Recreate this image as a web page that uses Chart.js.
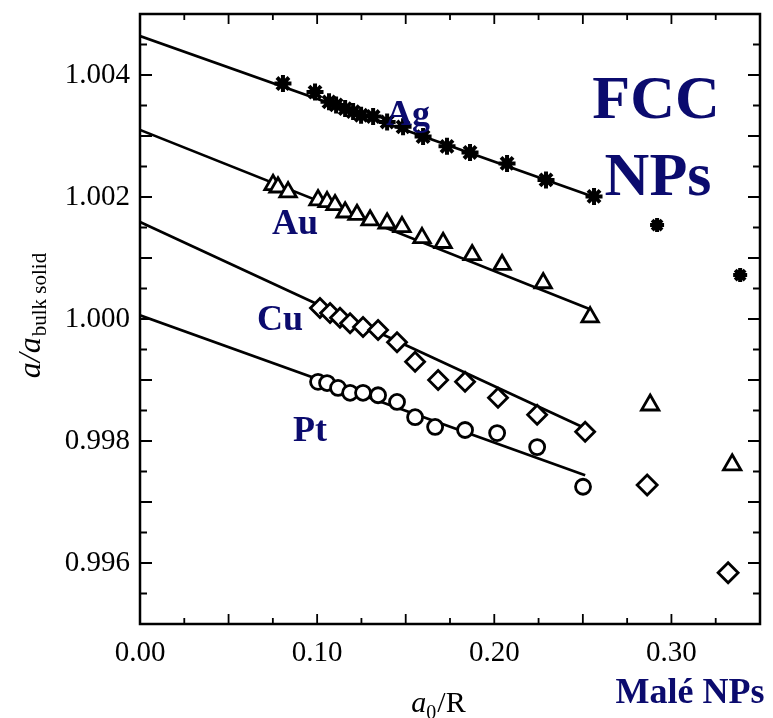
<!DOCTYPE html>
<html>
<head>
<meta charset="utf-8">
<script src="https://cdn.jsdelivr.net/npm/chart.js@4.4.1/dist/chart.umd.min.js"></script>
<style>
  html, body { margin: 0; padding: 0; background: #fff; }
  #wrap { width: 773px; height: 718px; position: relative; }
</style>
</head>
<body>
<div id="wrap"><canvas id="chart"></canvas></div>
<script>
// a0/R (x) and a/a_bulk (y)
const agX = [0.0807, 0.0988, 0.1067, 0.1107, 0.1158, 0.1203, 0.1248, 0.1316, 0.1395, 0.1485, 0.1598, 0.1733, 0.1863, 0.2072, 0.2292, 0.2563];
const agY = [1.00386, 1.00372, 1.00356, 1.00351, 1.00345, 1.00340, 1.00334, 1.00332, 1.00323, 1.00315, 1.00299, 1.00283, 1.00273, 1.00255, 1.00228, 1.00201];
const auX = [0.0751, 0.0779, 0.0836, 0.1005, 0.1056, 0.1101, 0.1158, 0.1225, 0.1299, 0.1395, 0.1479, 0.1592, 0.1711, 0.1875, 0.2044, 0.2276, 0.2541];
const auY = [1.00220, 1.00216, 1.00208, 1.00195, 1.00192, 1.00187, 1.00175, 1.00171, 1.00162, 1.00157, 1.00151, 1.00133, 1.00125, 1.00105, 1.00089, 1.00059, 1.00003];
const cuX = [0.1016, 0.1073, 0.1129, 0.1186, 0.1259, 0.1344, 0.1451, 0.1553, 0.1683, 0.1835, 0.2021, 0.2242, 0.2513];
const cuY = [1.00018, 1.00010, 1.00002, 0.99993, 0.99987, 0.99982, 0.99962, 0.99930, 0.99900, 0.99897, 0.99871, 0.99843, 0.99815];
const ptX = [0.1005, 0.1056, 0.1118, 0.1186, 0.1259, 0.1344, 0.1451, 0.1553, 0.1666, 0.1835, 0.2016, 0.2242, 0.2501];
const ptY = [0.99897, 0.99895, 0.99887, 0.99879, 0.99879, 0.99875, 0.99864, 0.99839, 0.99823, 0.99818, 0.99813, 0.99790, 0.99725];

// Malé NPs points
const maleAgX = [0.2919, 0.3388];
const maleAgY = [1.00154, 1.00072];
const maleAuX = [0.2880, 0.3343];
const maleAuY = [0.99859, 0.99761];
const maleCuX = [0.2863, 0.3320];
const maleCuY = [0.99728, 0.99584];

// straight fits: start / end
const fitAgX = [0, 0.2563], fitAgY = [1.00464, 1.00200];
const fitAuX = [0, 0.2541], fitAuY = [1.00310, 1.00016];
const fitCuX = [0, 0.2513], fitCuY = [1.00159, 0.99821];
const fitPtX = [0, 0.2513], fitPtY = [1.00006, 0.99744];

// metal names and where they sit
const metalNames = ["Ag", "Au", "Cu", "Pt"];
const metalLabelX = [0.1513, 0.0875, 0.0791, 0.0960];
const metalLabelY = [1.00334, 1.00154, 0.99998, 0.99815];

const NAVY = "#0b0b6e";

function pts(xs, ys) {
  return xs.map((x, i) => ({ x: x, y: ys[i] }));
}

function fitLine(xs, ys) {
  return {
    type: "line",
    data: pts(xs, ys),
    borderColor: "#000",
    borderWidth: 2.7,
    pointRadius: 0,
    showLine: true,
    order: 2,
  };
}

function marks(xs, ys, style, r, bw) {
  return {
    data: pts(xs, ys),
    pointStyle: style,
    pointRadius: r,
    pointBorderColor: "#000",
    pointBackgroundColor: "#fff",
    pointBorderWidth: bw,
    showLine: false,
    order: 1,
  };
}

// frame, inward ticks, axis titles and text labels
const decor = {
  id: "decor",
  afterDatasetsDraw(chart) {
    const ctx = chart.ctx;
    const a = chart.chartArea;
    const xs = chart.scales.x;
    const ys = chart.scales.y;
    ctx.save();
    ctx.strokeStyle = "#000";

    ctx.lineWidth = 1.8;
    xs.ticks.forEach((t) => {
      const px = xs.getPixelForValue(t.value);
      const len = Math.round(t.value * 1000) % 50 === 0 ? 10 : 6;
      ctx.beginPath();
      ctx.moveTo(px, a.bottom);
      ctx.lineTo(px, a.bottom - len);
      ctx.moveTo(px, a.top);
      ctx.lineTo(px, a.top + len);
      ctx.stroke();
    });
    ys.ticks.forEach((t) => {
      const py = ys.getPixelForValue(t.value);
      const len = Math.round(t.value * 10000) % 10 === 0 ? 12 : 7;
      ctx.beginPath();
      ctx.moveTo(a.left, py);
      ctx.lineTo(a.left + len, py);
      ctx.moveTo(a.right, py);
      ctx.lineTo(a.right - len, py);
      ctx.stroke();
    });

    ctx.lineWidth = 2.5;
    ctx.strokeRect(a.left, a.top, a.right - a.left, a.bottom - a.top);

    // metal names
    ctx.fillStyle = NAVY;
    ctx.font = "bold 36px 'Liberation Serif'";
    ctx.textAlign = "center";
    ctx.textBaseline = "middle";
    metalNames.forEach((m, i) => {
      ctx.fillText(m, xs.getPixelForValue(metalLabelX[i]), ys.getPixelForValue(metalLabelY[i]));
    });

    ctx.textBaseline = "alphabetic";
    ctx.font = "bold 62px 'Liberation Serif'";
    ctx.fillText("FCC", 656, 118);
    ctx.fillText("NPs", 658, 195);
    ctx.font = "bold 36px 'Liberation Serif'";
    ctx.fillText("Malé NPs", 690, 703);

    // x title: a0/R
    ctx.fillStyle = "#000";
    ctx.textAlign = "left";
    const big = "italic 30px 'Liberation Serif'";
    const sub = "20px 'Liberation Serif'";
    const rom = "30px 'Liberation Serif'";
    ctx.font = big; const w1 = ctx.measureText("a").width;
    ctx.font = sub; const w2 = ctx.measureText("0").width;
    ctx.font = rom; const w3 = ctx.measureText("/R").width;
    let x0 = 438 - (w1 + w2 + w3) / 2;
    ctx.font = big; ctx.fillText("a", x0, 712);
    ctx.font = sub; ctx.fillText("0", x0 + w1, 719);
    ctx.font = rom; ctx.fillText("/R", x0 + w1 + w2 + 1, 712);

    // y title: a/a_bulk solid
    ctx.translate(40, 316);
    ctx.rotate(-Math.PI / 2);
    ctx.font = "italic 32px 'Liberation Serif'";
    const v1 = ctx.measureText("a/a").width;
    ctx.font = "21px 'Liberation Serif'";
    const v2 = ctx.measureText("bulk solid").width;
    const s0 = -(v1 + v2) / 2;
    ctx.font = "italic 32px 'Liberation Serif'";
    ctx.fillText("a/a", s0, 0);
    ctx.font = "21px 'Liberation Serif'";
    ctx.fillText("bulk solid", s0 + v1 + 1, 6);
    ctx.restore();
  },
};

new Chart(document.getElementById("chart"), {
  type: "scatter",
  data: {
    datasets: [
      fitLine(fitAgX, fitAgY),
      fitLine(fitAuX, fitAuY),
      fitLine(fitCuX, fitCuY),
      fitLine(fitPtX, fitPtY),
      Object.assign(marks(agX, agY, "star", 8.5, 4), { pointBackgroundColor: "#000" }),
      marks(auX, auY, "triangle", 9.5, 2.8),
      marks(cuX, cuY, "rectRot", 9.5, 2.8),
      marks(ptX, ptY, "circle", 7.5, 2.8),
      Object.assign(marks(maleAgX, maleAgY, "star", 7, 4), { pointBackgroundColor: "#000" }),
      marks(maleAuX, maleAuY, "triangle", 10, 2.8),
      marks(maleCuX, maleCuY, "rectRot", 10, 2.8),
    ],
  },
  options: {
    responsive: true,
    maintainAspectRatio: false,
    animation: false,
    layout: { padding: { top: 14, right: 13, left: 0, bottom: 0 } },
    plugins: { legend: { display: false }, tooltip: { enabled: false } },
    scales: {
      x: {
        type: "linear",
        min: 0,
        max: 0.35,
        grid: { display: false, drawTicks: false },
        border: { display: false },
        ticks: {
          stepSize: 0.025,
          autoSkip: false,
          maxRotation: 0,
          padding: 12,
          color: "#000",
          font: { family: "'Liberation Serif'", size: 29 },
          callback: (v) => (Math.round(v * 1000) % 100 === 0 ? v.toFixed(2) : ""),
        },
        afterFit: (s) => { s.height = 94; s.paddingLeft = 0; s.paddingRight = 0; },
      },
      y: {
        type: "linear",
        min: 0.995,
        max: 1.005,
        grid: { display: false, drawTicks: false },
        border: { display: false },
        ticks: {
          stepSize: 0.0005,
          autoSkip: false,
          padding: 10,
          color: "#000",
          font: { family: "'Liberation Serif'", size: 29 },
          callback: (v) => (Math.round(v * 10000) % 20 === 0 ? v.toFixed(3) : ""),
        },
        afterFit: (s) => { s.width = 140; s.paddingTop = 0; s.paddingBottom = 0; },
      },
    },
  },
  plugins: [decor],
});
</script>
</body>
</html>
